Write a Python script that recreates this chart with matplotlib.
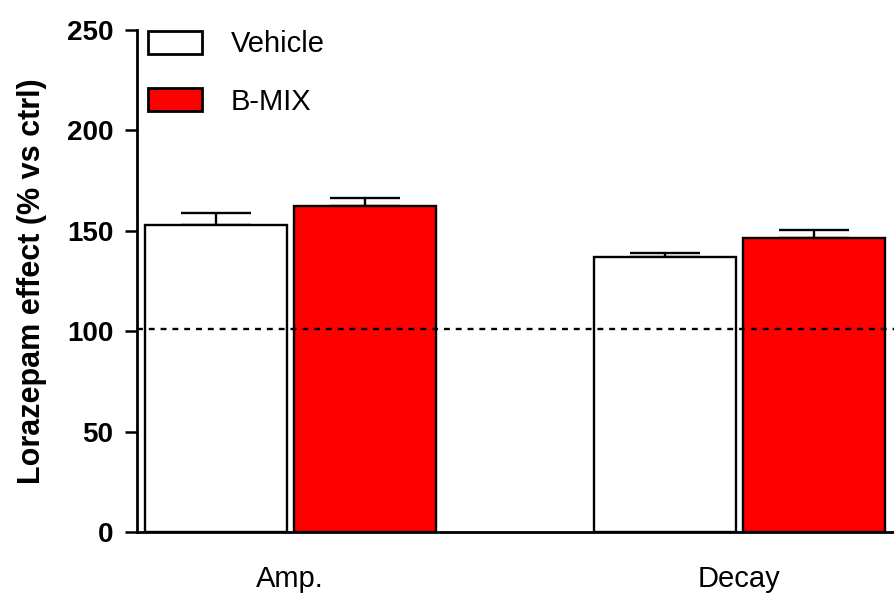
import matplotlib
matplotlib.use("Agg")
import matplotlib.pyplot as plt
import numpy as np

categories = ["Amp.", "Decay"]
series_names = ["Vehicle", "B-MIX"]
vehicle = [153, 137]
vehicle_err = [6, 2]
bmix = [162.5, 146.5]
bmix_err = [4, 4]
baseline = 101
yticks = [0, 50, 100, 150, 200, 250]

plt.rcParams['font.family'] = ['Liberation Sans', 'DejaVu Sans']

fig = plt.figure(figsize=(8.94, 6.06), dpi=100)
ax = fig.add_axes([137/894, 74/606, 757/894, 502/606])

x = np.arange(len(categories))
w = 0.316
off = 0.166
lw = 1.7
ax.bar(x - off, vehicle, w, color='white', edgecolor='black', linewidth=lw,
       label=series_names[0], zorder=2)
ax.bar(x + off, bmix, w, color='#ff0000', edgecolor='black', linewidth=lw,
       label=series_names[1], zorder=2)
ax.errorbar(x - off, vehicle, yerr=[np.zeros(2), vehicle_err], fmt='none',
            ecolor='black', elinewidth=lw, capsize=25, capthick=lw, zorder=1)
ax.errorbar(x + off, bmix, yerr=[np.zeros(2), bmix_err], fmt='none',
            ecolor='black', elinewidth=lw, capsize=25, capthick=lw, zorder=1)

ax.axhline(baseline, color='black', linestyle=(0, (2.5, 2.5)), linewidth=1.7, zorder=3)

ax.set_xlim(-0.341, 1.345)
ax.set_ylim(0, 250)
ax.set_yticks(yticks)
ax.set_yticklabels([str(t) for t in yticks], fontsize=20, fontweight='bold')
ax.set_xticks(x)
ax.set_xticklabels(categories, fontsize=21)
ax.tick_params(axis='x', length=0, pad=24)
ax.tick_params(axis='y', length=9, width=1.8, pad=8)
for s in ['top', 'right']:
    ax.spines[s].set_visible(False)
for s in ['left', 'bottom']:
    ax.spines[s].set_linewidth(2.0)

ax.set_ylabel("Lorazepam effect (% vs ctrl)", fontsize=22, fontweight='bold', labelpad=14)

leg = ax.legend(loc='upper left', bbox_to_anchor=(-0.013, 1.04), frameon=False,
                fontsize=21, handlelength=1.85, handleheight=0.85, handletextpad=1.0,
                labelspacing=1.0, borderaxespad=0.3)
for p in leg.get_patches():
    p.set_linewidth(2.0)

fig.savefig("out.png", dpi=100)
